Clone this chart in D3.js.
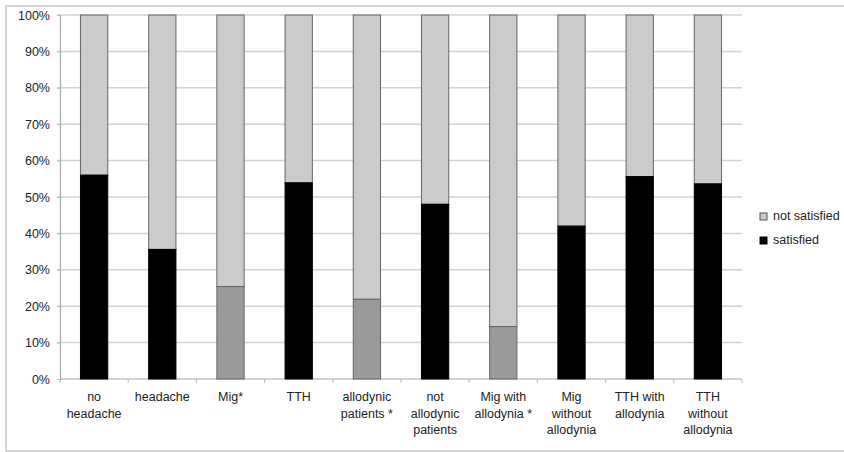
<!DOCTYPE html>
<html><head><meta charset="utf-8">
<script src="https://cdn.jsdelivr.net/npm/d3@7"></script>
<style>
body{margin:0;background:#fff;}
svg{display:block;font-family:"Liberation Sans",Arial,Helvetica,sans-serif;}
</style></head>
<body><svg id="c" width="844" height="452"></svg>
<script>
const categories = [
  ["no","headache"],
  ["headache"],
  ["Mig*"],
  ["TTH"],
  ["allodynic","patients *"],
  ["not","allodynic","patients"],
  ["Mig with","allodynia *"],
  ["Mig","without","allodynia"],
  ["TTH with","allodynia"],
  ["TTH","without","allodynia"]
];
const satisfied = [56.0, 35.6, 25.4, 53.9, 21.9, 48.0, 14.4, 42.0, 55.6, 53.6];
const significant = [false, false, true, false, true, false, true, false, false, false];
const yTicks = [0,10,20,30,40,50,60,70,80,90,100];
const legendLabels = ["not satisfied","satisfied"];

(function(){
const svg = d3.select("#c");
const L = 60, R = 742, T = 15, B = 379;

svg.append("rect").attr("x",6).attr("y",6).attr("width",860).attr("height",445)
  .attr("fill","none").attr("stroke","#c8c8c8").attr("stroke-width",1.5);

const x = d3.scaleBand().domain(d3.range(categories.length)).range([L,R]).paddingInner(0.6).paddingOuter(0.3);
const y = d3.scaleLinear().domain([0,100]).range([B,T]);

// gridlines
svg.append("g").selectAll("line").data(yTicks.filter(d=>d>0)).join("line")
  .attr("x1",L-3).attr("x2",R).attr("y1",d=>y(d)).attr("y2",d=>y(d))
  .attr("stroke","#d2d2d2").attr("stroke-width",1.5);

// y axis
const ya = svg.append("g").attr("transform",`translate(${L},0)`)
  .call(d3.axisLeft(y).tickValues(yTicks).tickFormat(d=>d+"%").tickSize(3).tickPadding(7));
ya.select(".domain").attr("stroke","#aaa").attr("stroke-width",1.2);
ya.selectAll(".tick line").attr("stroke","#bbb");
ya.selectAll("text").attr("font-size","12.5px").attr("fill","#222").attr("font-family",null);

// x axis baseline with ticks at band boundaries
const bounds = d3.range(categories.length+1).map(i=>L + i*(R-L)/categories.length);
svg.append("line").attr("x1",L).attr("x2",R).attr("y1",B).attr("y2",B)
  .attr("stroke","#aaa").attr("stroke-width",1.2);
svg.append("g").selectAll("line").data(bounds).join("line")
  .attr("x1",d=>d).attr("x2",d=>d).attr("y1",B).attr("y2",B+4)
  .attr("stroke","#bbb");

// bars
const g = svg.append("g");
categories.forEach((c,i)=>{
  const bx = x(i), bw = x.bandwidth();
  g.append("rect").attr("x",bx).attr("y",y(100)).attr("width",bw).attr("height",y(satisfied[i])-y(100))
    .attr("fill","#cbcbcb").attr("stroke","#666").attr("stroke-width",1);
  g.append("rect").attr("x",bx).attr("y",y(satisfied[i])).attr("width",bw).attr("height",y(0)-y(satisfied[i]))
    .attr("fill",significant[i]?"#9a9a9a":"#000").attr("stroke",significant[i]?"#666":"#000").attr("stroke-width",1);
});

// category labels
const lab = svg.append("g");
categories.forEach((lines,i)=>{
  const cx = x(i)+x.bandwidth()/2;
  const t = lab.append("text").attr("text-anchor","middle").attr("font-size","12.5px").attr("fill","#222");
  lines.forEach((l,j)=>{
    t.append("tspan").attr("x",cx).attr("y",401+j*16.5).text(l);
  });
});

// legend
const lg = svg.append("g");
const legFill = ["#cbcbcb","#000"];
legendLabels.forEach((l,i)=>{
  const ly = 216 + i*24;
  lg.append("rect").attr("x",760).attr("y",ly-3).attr("width",7).attr("height",7)
    .attr("fill",legFill[i]).attr("stroke",i===0?"#555":"#000").attr("stroke-width",1);
  lg.append("text").attr("x",773).attr("y",ly+4).attr("font-size","12.5px").attr("fill","#222").text(l);
});
})();
</script></body></html>
